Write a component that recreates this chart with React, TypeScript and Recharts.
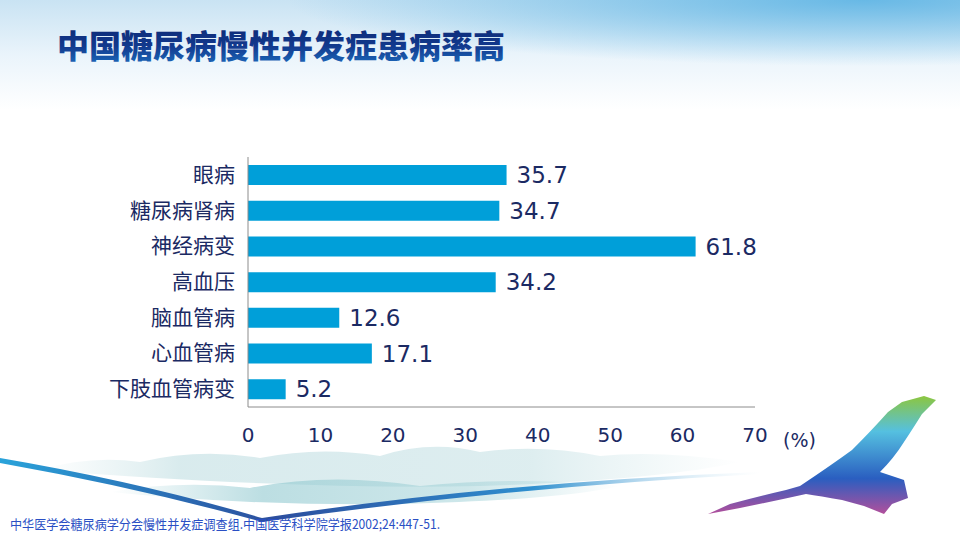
import React from "react";
import { BarChart, Bar, XAxis, YAxis, LabelList } from "recharts";

const categories = ["眼病", "糖尿病肾病", "神经病变", "高血压", "脑血管病", "心血管病", "下肢血管病变"];
const values = [35.7, 34.7, 61.8, 34.2, 12.6, 17.1, 5.2];
const xTicks = [0, 10, 20, 30, 40, 50, 60, 70];
const titleText = "中国糖尿病慢性并发症患病率高";
const unitText = "(%)";
const footnoteText = "中华医学会糖尿病学分会慢性并发症调查组.中国医学科学院学报2002;24:447-51.";

const data = categories.map((name, i) => ({ name, value: values[i] }));

const NAVY = "#1b2a63";
const BAR = "#009fd9";
const AXIS = "#8c8c8c";

const XTick = (props: any) => {
  const { x, y, payload } = props;
  return (
    <text x={x} y={y} dy={27} textAnchor="middle" fill={NAVY} fontSize={20} fontFamily="DejaVu Sans">
      {payload.value}
    </text>
  );
};

const YTick = (props: any) => {
  const { x, y, payload } = props;
  return (
    <text x={x} y={y} dx={-5} dy={7} textAnchor="end" fill={NAVY} fontSize={21} fontFamily="'Noto Sans CJK SC'">
      {payload.value}
    </text>
  );
};

const Background = () => (
  <svg width={960} height={540} style={{ position: "absolute", left: 0, top: 0 }}>
    <defs>
      <linearGradient id="sky" x1="0" y1="0" x2="0" y2="1">
        <stop offset="0" stopColor="#c9e3f3" />
        <stop offset="0.5" stopColor="#eaf4fb" />
        <stop offset="1" stopColor="#ffffff" />
      </linearGradient>
      <radialGradient id="skyTR" cx="0.9" cy="0" r="0.6">
        <stop offset="0" stopColor="#5db4e4" stopOpacity="0.9" />
        <stop offset="1" stopColor="#5db4e4" stopOpacity="0" />
      </radialGradient>
      <linearGradient id="swoosh" x1="0" y1="0" x2="1" y2="0">
        <stop offset="0" stopColor="#2aa3da" />
        <stop offset="0.36" stopColor="#2c4e9e" />
        <stop offset="0.7" stopColor="#2f8fcf" />
        <stop offset="1" stopColor="#bfe0f0" stopOpacity="0" />
      </linearGradient>
      <linearGradient id="mistH" x1="0" y1="0" x2="1" y2="0">
        <stop offset="0" stopColor="#d6eaec" stopOpacity="0" />
        <stop offset="0.2" stopColor="#cfe6e9" stopOpacity="0.8" />
        <stop offset="0.7" stopColor="#cfe6e9" stopOpacity="0.7" />
        <stop offset="1" stopColor="#d6eaec" stopOpacity="0" />
      </linearGradient>
      <linearGradient id="mistH2" x1="0" y1="0" x2="1" y2="0">
        <stop offset="0" stopColor="#8fc8cf" stopOpacity="0" />
        <stop offset="0.3" stopColor="#8fc8cf" stopOpacity="0.6" />
        <stop offset="0.7" stopColor="#9ccfd5" stopOpacity="0.5" />
        <stop offset="1" stopColor="#9ccfd5" stopOpacity="0" />
      </linearGradient>
      <linearGradient id="eagle" x1="0" y1="0" x2="0" y2="1">
        <stop offset="0" stopColor="#8cc63f" />
        <stop offset="0.3" stopColor="#55c0e0" />
        <stop offset="0.7" stopColor="#2a5ec0" />
        <stop offset="1" stopColor="#b24f9c" />
      </linearGradient>
    </defs>
    <rect x={0} y={0} width={960} height={110} fill="url(#sky)" />
    <rect x={0} y={0} width={960} height={110} fill="url(#skyTR)" />
    <path d="M40,470 Q90,455 140,462 Q200,448 260,458 Q320,446 380,456 Q430,440 480,452 Q540,444 600,456 Q660,450 740,462 Q660,480 480,486 Q300,490 40,470 Z" fill="url(#mistH)" />
    <path d="M110,492 Q180,480 250,488 Q330,472 420,486 Q520,476 620,486 Q560,500 400,504 Q250,506 110,492 Z" fill="url(#mistH2)" />
    <path d="M0,458 Q140,482 262,518 Q500,482 760,472 L760,474 Q500,488 262,522 Q140,488 0,463 Z" fill="url(#swoosh)" />
    <path d="M800,486 Q830,466 852,450 Q872,430 888,412 L902,402 L924,396 L936,400 L922,414 Q912,430 904,442 Q894,458 880,472 L904,480 L908,498 L892,504 L884,514 L864,506 L842,500 Q820,496 806,494 Q770,502 740,508 L708,514 L730,504 Q760,496 786,490 Z" fill="url(#eagle)" />
  </svg>
);

const Overlay = () => (
  <svg width={960} height={540} style={{ position: "absolute", left: 0, top: 0, pointerEvents: "none" }}>
    <defs>
      <linearGradient id="title" x1="0" y1="0" x2="0" y2="1">
        <stop offset="0" stopColor="#0b2570" />
        <stop offset="0.55" stopColor="#123a8e" />
        <stop offset="1" stopColor="#1d6fc0" />
      </linearGradient>
    </defs>
    <text x={57} y={58} fontSize={32} fontWeight={900} fontFamily="'Noto Sans CJK SC'" fill="url(#title)" textLength={448} lengthAdjust="spacingAndGlyphs">
      {titleText}
    </text>
    <text x={783} y={447} fontSize={19} fontFamily="DejaVu Sans" fill={NAVY}>
      {unitText}
    </text>
    <text x={10} y={529} fontSize={13} fontFamily="'Noto Sans CJK SC'" fill="#2a4fc4" textLength={430} lengthAdjust="spacingAndGlyphs">
      {footnoteText}
    </text>
  </svg>
);

export default function App() {
  return (
    <div style={{ position: "fixed", left: 0, top: 0, width: 960, height: 540, overflow: "hidden", background: "#ffffff" }}>
      <Background />
      <div style={{ position: "absolute", left: 0, top: 0 }}>
        <BarChart
          layout="vertical"
          width={960}
          height={540}
          data={data}
          margin={{ top: 157, right: 205, bottom: 93, left: 0 }}
          barSize={20}
        >
          <XAxis
            type="number"
            domain={[0, 70]}
            ticks={xTicks}
            height={40}
            axisLine={{ stroke: AXIS }}
            tickLine={false}
            tick={<XTick />}
            interval={0}
          />
          <YAxis
            type="category"
            dataKey="name"
            width={248}
            axisLine={{ stroke: AXIS }}
            tickLine={false}
            tick={<YTick />}
            interval={0}
          />
          <Bar dataKey="value" fill={BAR} isAnimationActive={false}>
            <LabelList dataKey="value" position="right" offset={10} fill={NAVY} fontSize={23} fontFamily="DejaVu Sans" />
          </Bar>
        </BarChart>
      </div>
      <Overlay />
    </div>
  );
}
